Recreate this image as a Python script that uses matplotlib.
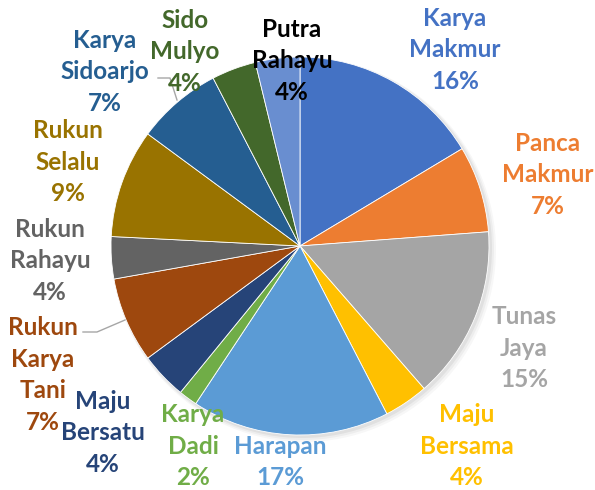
import matplotlib
matplotlib.use("Agg")
from matplotlib import pyplot as plt
from matplotlib.patches import Circle

# Data: share of each kelompok (percent), clockwise from 12 o'clock
names = ["Karya Makmur", "Panca Makmur", "Tunas Jaya", "Maju Bersama", "Harapan",
         "Karya Dadi", "Maju Bersatu", "Rukun Karya Tani", "Rukun Rahayu",
         "Rukun Selalu", "Karya Sidoarjo", "Sido Mulyo", "Putra Rahayu"]
values = [16.4, 7.4, 14.8, 3.8, 16.9, 1.6, 4.0, 7.3, 3.6, 9.3, 7.3, 3.8, 3.8]

colors = ["#4472C4", "#ED7D31", "#A5A5A5", "#FFC000", "#5B9BD5", "#70AD47",
          "#264478", "#9E480E", "#636363", "#997300", "#255E91", "#43682B", "#698ED0"]
label_colors = colors[:-1] + ["#000000"]

# label centres in picture pixels (x, y from top)
label_pos = [(455, 50), (548, 175), (524, 348), (467, 446), (280, 462),
             (193, 446), (103, 433), (43, 375), (50, 261), (68, 162),
             (105, 72), (185, 52), (292, 61)]

W, H = 595, 490
fig = plt.figure(figsize=(W / 100, H / 100), dpi=100)
ax = fig.add_axes([0, 0, 1, 1])

cx, cy, r = 300, H - 246, 189

# faint shadow like Excel
for i, a in enumerate([0.05, 0.04, 0.03]):
    ax.add_patch(Circle((cx + 2 + i, cy - 2 - i), r + 1 + i, color="black", alpha=a, lw=0, zorder=0))

ax.pie(values, colors=colors, startangle=90, counterclock=False, center=(cx, cy),
       radius=r, wedgeprops=dict(edgecolor="white", linewidth=0.6), frame=True)
ax.set_xlim(0, W)
ax.set_ylim(0, H)
ax.set_aspect("equal")
ax.axis("off")

for name, v, c, (x, y) in zip(names, values, label_colors, label_pos):
    ax.text(x, H - y, name.replace(" ", "\n") + f"\n{v:.0f}%", color=c,
            ha="center", va="center", fontsize=17.5, fontweight="bold",
            family=["Lato", "DejaVu Sans"], linespacing=1.45)

# leader lines
ax.plot([158, 170, 177], [H - 78, H - 78, H - 100], color="#A6A6A6", lw=1)
ax.plot([83, 97, 125], [H - 332, H - 332, H - 320], color="#A6A6A6", lw=1)

fig.savefig("out.png", dpi=100)
